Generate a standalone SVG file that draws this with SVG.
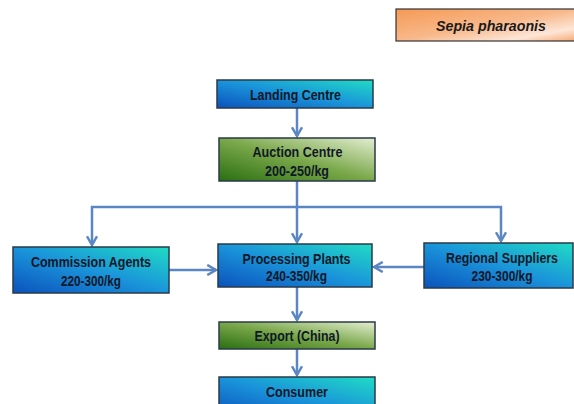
<svg xmlns="http://www.w3.org/2000/svg" width="574" height="404" viewBox="0 0 574 404">
<defs>
<linearGradient id="gBlue" x1="0" y1="1" x2="1" y2="0">
<stop offset="0" stop-color="#0b52bc"/>
<stop offset="0.5" stop-color="#1a94da"/>
<stop offset="1" stop-color="#20dcc4"/>
</linearGradient>
<linearGradient id="gGreen" x1="0" y1="1" x2="1" y2="0">
<stop offset="0" stop-color="#2a6e12"/>
<stop offset="0.5" stop-color="#7aa84a"/>
<stop offset="1" stop-color="#e4eed2"/>
</linearGradient>
<linearGradient id="gOrange" x1="0" y1="0" x2="1" y2="1">
<stop offset="0" stop-color="#f59a55"/>
<stop offset="0.5" stop-color="#f8b88a"/>
<stop offset="0.8" stop-color="#fde6d8"/>
<stop offset="1" stop-color="#f7a870"/>
</linearGradient>
<marker id="arr" viewBox="0 0 10 10" refX="8" refY="5" markerWidth="5" markerHeight="5" orient="auto" markerUnits="strokeWidth">
<path d="M1,1 L8,5 L1,9" fill="none" stroke="#5b86c4" stroke-width="2"/>
</marker>
<style>
.box{stroke:#2a3a4a;stroke-width:1.5}
.blue{fill:url(#gBlue)}
.green{fill:url(#gGreen)}
.t{font-family:"Liberation Sans",Arial,sans-serif;font-weight:bold;font-size:15px;fill:#101828;text-anchor:middle}
.s{font-size:14px}
.conn{fill:none;stroke:#5b86c4;stroke-width:2.5}
</style>
</defs>
<rect width="574" height="404" fill="#ffffff"/>
<g id="title">
<rect x="396" y="9" width="180" height="32" fill="url(#gOrange)" stroke="#333" stroke-width="1.2"/>
<text x="491" y="31" font-family="Liberation Sans,Arial,sans-serif" font-weight="bold" font-style="italic" font-size="15" fill="#1a1a1a" text-anchor="middle" textLength="110" lengthAdjust="spacingAndGlyphs">Sepia pharaonis</text>
</g>
<g id="connectors">
<path class="conn" d="M297,108 V136" marker-end="url(#arr)"/>
<path class="conn" d="M297,181 V242" marker-end="url(#arr)"/>
<path class="conn" d="M297,207 H92 V245" marker-end="url(#arr)"/>
<path class="conn" d="M297,207 H501 V241" marker-end="url(#arr)"/>
<path class="conn" d="M169,270 H216" marker-end="url(#arr)"/>
<path class="conn" d="M424,267 H374" marker-end="url(#arr)"/>
<path class="conn" d="M297,287 V320" marker-end="url(#arr)"/>
<path class="conn" d="M297,349 V375" marker-end="url(#arr)"/>
</g>
<g id="landing">
<rect class="box blue" x="217" y="80" width="156" height="28"/>
<text class="t" x="295.5" y="100" textLength="91" lengthAdjust="spacingAndGlyphs">Landing Centre</text>
</g>
<g id="auction">
<rect class="box green" x="219" y="138" width="156" height="43"/>
<text class="t" x="297.5" y="157" textLength="90" lengthAdjust="spacingAndGlyphs">Auction Centre</text>
<text class="t" x="297" y="176" textLength="64" lengthAdjust="spacingAndGlyphs">200-250/kg</text>
</g>
<g id="commission">
<rect class="box blue" x="13" y="247" width="156" height="46"/>
<text class="t" x="91" y="267" textLength="120" lengthAdjust="spacingAndGlyphs">Commission Agents</text>
<text class="t" x="91" y="286" textLength="60" lengthAdjust="spacingAndGlyphs">220-300/kg</text>
</g>
<g id="processing">
<rect class="box blue" x="218" y="244" width="154" height="43"/>
<text class="t" x="296.5" y="264" textLength="108" lengthAdjust="spacingAndGlyphs">Processing Plants</text>
<text class="t" x="296.5" y="281" textLength="61" lengthAdjust="spacingAndGlyphs">240-350/kg</text>
</g>
<g id="regional">
<rect class="box blue" x="424" y="243" width="149" height="45"/>
<text class="t s" x="502" y="263" textLength="112" lengthAdjust="spacingAndGlyphs">Regional Suppliers</text>
<text class="t" x="502" y="281" textLength="61" lengthAdjust="spacingAndGlyphs">230-300/kg</text>
</g>
<g id="export">
<rect class="box green" x="219" y="322" width="156" height="27"/>
<text class="t" x="297" y="341" textLength="85" lengthAdjust="spacingAndGlyphs">Export (China)</text>
</g>
<g id="consumer">
<rect class="box blue" x="219" y="377" width="156" height="40"/>
<text class="t" x="297" y="397" textLength="62" lengthAdjust="spacingAndGlyphs">Consumer</text>
</g>
</svg>
